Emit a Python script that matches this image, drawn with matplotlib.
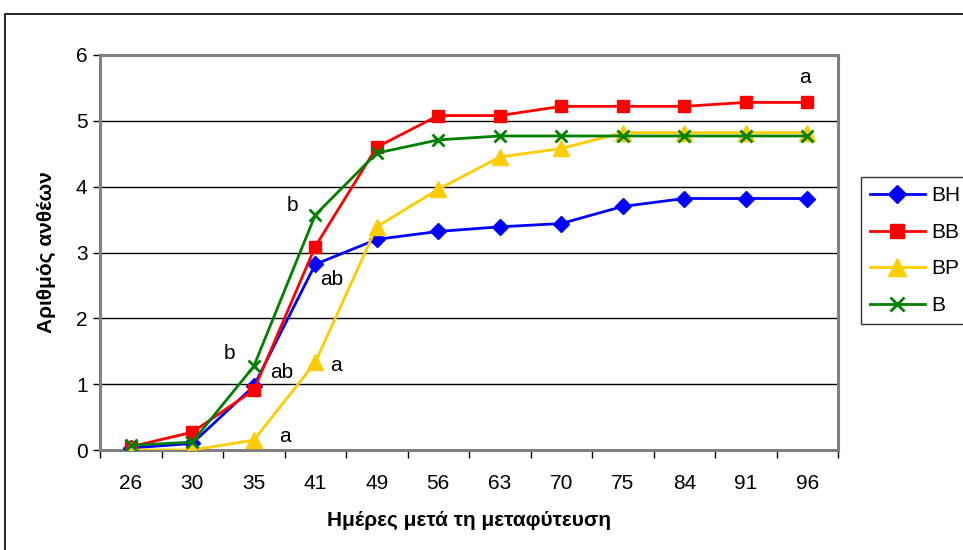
import numpy as np
import matplotlib.pyplot as plt
from matplotlib.patches import Rectangle

plt.rcParams['font.family'] = ['Liberation Sans', 'DejaVu Sans']

# data
days = ['26', '30', '35', '41', '49', '56', '63', '70', '75', '84', '91', '96']
bh = [0.03, 0.10, 0.97, 2.82, 3.20, 3.32, 3.39, 3.44, 3.70, 3.82, 3.82, 3.82]
bb = [0.05, 0.27, 0.91, 3.09, 4.60, 5.08, 5.08, 5.22, 5.22, 5.22, 5.28, 5.28]
bp = [0.00, 0.00, 0.15, 1.33, 3.39, 3.96, 4.45, 4.58, 4.82, 4.82, 4.82, 4.82]
b = [0.07, 0.12, 1.27, 3.57, 4.51, 4.71, 4.77, 4.77, 4.77, 4.77, 4.77, 4.77]

# significance letters: (text, x index, y value)
letters = [('b', 2.63, 3.72), ('ab', 3.27, 2.59), ('b', 1.60, 1.47),
           ('ab', 2.46, 1.18), ('a', 3.34, 1.29), ('a', 2.50, 0.20),
           ('a', 10.96, 5.66)]

fig = plt.figure(figsize=(9.63, 5.5), dpi=100)
ax = fig.add_axes([100/963, 1 - 450/550, 738/963, 395/550])

# outer chart frame (clipped at right/bottom like the reference)
fig.patches.append(Rectangle((5/963, -0.1), 1.2, 1 - 14/550 + 0.1,
                             transform=fig.transFigure, fill=False,
                             edgecolor='black', linewidth=1.2))

x = np.arange(len(days))
ax.plot(x, bh, color='#0000FF', marker='D', markersize=8, linewidth=2, label='BH', zorder=3)
ax.plot(x, bb, color='#FF0000', marker='s', markersize=9, linewidth=2, label='BB', zorder=3)
ax.plot(x, bp, color='#FFCC00', marker='^', markersize=11, linewidth=2, label='BP', zorder=3)
ax.plot(x, b, color='#008000', marker='x', markersize=9, markeredgewidth=2,
        linewidth=2, label='B', zorder=4)

for txt, tx, ty in letters:
    ax.text(tx, ty, txt, fontsize=15, ha='center', va='center')

ax.set_xlim(-0.5, 11.5)
ax.set_ylim(0, 6)
ax.set_yticks(range(7))
ax.set_xticks(x)
ax.set_xticklabels(days)
ax.set_xticks(np.arange(-0.5, 12, 1), minor=True)
ax.tick_params(axis='x', which='major', length=0, pad=17, labelsize=15)
ax.tick_params(axis='x', which='minor', length=6, direction='out', width=1)
ax.tick_params(axis='y', length=5, direction='out', width=1, labelsize=15, pad=4)

ax.grid(axis='y', color='black', linewidth=1)
ax.set_axisbelow(True)
for side in ['top', 'right', 'left', 'bottom']:
    ax.spines[side].set_color('#808080')
    ax.spines[side].set_linewidth(2.2)

ax.set_xlabel('Ημέρες μετά τη μεταφύτευση', fontsize=15, fontweight='bold', labelpad=13)
ax.set_ylabel('Αριθμός ανθέων', fontsize=15, fontweight='bold', labelpad=14)

leg = ax.legend(loc='upper left', bbox_to_anchor=(861/963, 1 - 177/550),
                bbox_transform=fig.transFigure, fontsize=15, frameon=True,
                fancybox=False, edgecolor='black', handlelength=2.6,
                labelspacing=0.84, borderpad=0.45, borderaxespad=0,
                handletextpad=0.3, markerscale=1.15)
leg.get_frame().set_linewidth(1)

fig.savefig('out.png', dpi=100)
